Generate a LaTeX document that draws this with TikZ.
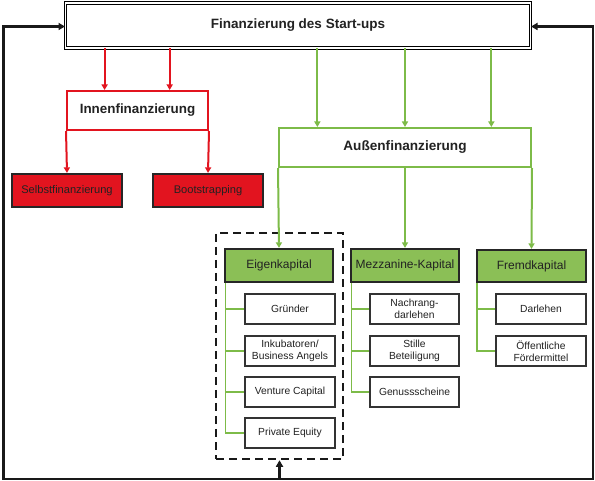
\documentclass[tikz,border=0pt]{standalone}
\usepackage{fontspec}
\setmainfont{Liberation Sans}
\usetikzlibrary{arrows.meta,calc}
\definecolor{fred}{HTML}{E2141F}
\definecolor{fgreen}{HTML}{8BBF56}
\definecolor{lgreen}{HTML}{7DBB48}
\definecolor{txt}{HTML}{222222}
\tikzset{
  base/.style={anchor=center, inner sep=0pt, align=center, text=txt},
  topbox/.style={base, draw=black, line width=1pt, double, double distance=1.6pt, fill=white, font=\bfseries\fontsize{13.5}{15}\selectfont},
  innbox/.style={base, draw=fred, line width=2pt, fill=white, font=\bfseries\fontsize{13.4}{15}\selectfont},
  ausbox/.style={base, draw=lgreen, line width=2pt, fill=white, font=\bfseries\fontsize{13.6}{15}\selectfont},
  redbox/.style={base, draw=black!85, line width=2.2pt, fill=fred, font=\fontsize{11.1}{13}\selectfont},
  grnbox/.style={base, draw=black!85, line width=2.2pt, fill=fgreen, font=\fontsize{12}{14}\selectfont},
  subbox/.style={base, draw=black!80, line width=1.5pt, fill=white, minimum width=90pt, minimum height=30pt, font=\fontsize{10.3}{12.2}\selectfont},
  rarr/.style={draw=fred, line width=2pt, -{Triangle[width=6pt,length=5.5pt]}},
  garr/.style={draw=lgreen, line width=2pt, -{Triangle[width=6pt,length=5.5pt]}},
  gline/.style={draw=lgreen, line width=1.6pt},
  blk/.style={draw=black!90, line width=2.3pt},
  dashgrp/.style={draw=black!90, line width=2.5pt, dash pattern=on 8pt off 5pt, minimum width=127pt, minimum height=226pt, inner sep=0pt},
}
\begin{document}
\begin{tikzpicture}[x=1pt,y=-1pt]
\path[use as bounding box] (0,0) rectangle (595,481);

\node[dashgrp] (grp) at (279.5,346) {};

\node[topbox, minimum width=465pt, minimum height=45pt] (top) at (298,25.5) {Finanzierung des Start-ups};

\node[innbox, minimum width=141pt, minimum height=39pt] (inn) at (137.5,110.5) {Innenfinanzierung};
\node[redbox, minimum width=110pt, minimum height=33pt] (selbst) at (67,190.5) {Selbstfinanzierung};
\node[redbox, minimum width=110pt, minimum height=33pt] (boot) at (208,190.5) {Bootstrapping};

\node[ausbox, minimum width=252pt, minimum height=39pt] (aus) at (405,147.5) {Außenfinanzierung};

\node[grnbox, minimum width=108pt, minimum height=33pt] (eigen) at (279,265.5) {Eigenkapital};
\node[grnbox, minimum width=108pt, minimum height=33pt] (mezz) at (405,265.5) {Mezzanine-Kapital};
\node[grnbox, minimum width=109pt, minimum height=32pt] (fremd) at (531.5,266) {Fremdkapital};

\node[subbox] (e1) at (290,309) {Gründer};
\node[subbox] (e2) at (290,351) {Inkubatoren/\\Business Angels};
\node[subbox] (e3) at (290,392) {Venture Capital};
\node[subbox] (e4) at (290,433) {Private Equity};

\node[subbox, minimum width=89pt] (m1) at (414.5,309) {Nachrang-\\darlehen};
\node[subbox, minimum width=89pt] (m2) at (414.5,351) {Stille\\Beteiligung};
\node[subbox, minimum width=89pt] (m3) at (414.5,392) {Genussscheine};

\node[subbox] (f1) at (541,309) {Darlehen};
\node[subbox] (f2) at (541,351) {Öffentliche\\Fördermittel};

% red arrows
\coordinate (ra) at ($(inn.north west)!0.27!(inn.north east)$);
\coordinate (rb) at ($(inn.north west)!0.725!(inn.north east)$);
\draw[rarr] (ra |- top.south) -- (ra);
\draw[rarr] (rb |- top.south) -- (rb);
\draw[rarr] (inn.south west) -- (selbst.north);
\draw[rarr] (inn.south east) -- (boot.north);

% green arrows
\coordinate (ga) at ($(aus.north west)!0.155!(aus.north east)$);
\coordinate (gb) at (aus.north);
\coordinate (gc) at ($(aus.north west)!0.84!(aus.north east)$);
\draw[garr] (ga |- top.south) -- (ga);
\draw[garr] (gb |- top.south) -- (gb);
\draw[garr] (gc |- top.south) -- (gc);
\draw[garr] (aus.south west) -- (eigen.north);
\draw[garr] (aus.south) -- (mezz.north);
\draw[garr] (aus.south east) -- (fremd.north);

% tree lines
\coordinate (et) at ([xshift=1.5pt]eigen.south west);
\draw[gline] (et) |- (e4.west);
\foreach \n in {e1,e2,e3} \draw[gline] (et |- \n.west) -- (\n.west);
\coordinate (mt) at ([xshift=1.5pt]mezz.south west);
\draw[gline] (mt) |- (m3.west);
\foreach \n in {m1,m2} \draw[gline] (mt |- \n.west) -- (\n.west);
\coordinate (ft) at ([xshift=1pt]fremd.south west);
\draw[gline] (ft) |- (f2.west);
\draw[gline] (ft |- f1.west) -- (f1.west);

% feedback loop
\coordinate (bl) at (3.5,479);
\coordinate (br) at (593,479);
\draw[blk, {Triangle[width=7pt,length=6.5pt]}-{Triangle[width=7pt,length=6.5pt]}] ([yshift=-1pt]top.west) -| (bl) -- (br) |- ([yshift=-1pt]top.east);
\draw[blk, -{Triangle[width=7pt,length=6.5pt]}] (grp.south |- bl) -- (grp.south);
\end{tikzpicture}
\end{document}
